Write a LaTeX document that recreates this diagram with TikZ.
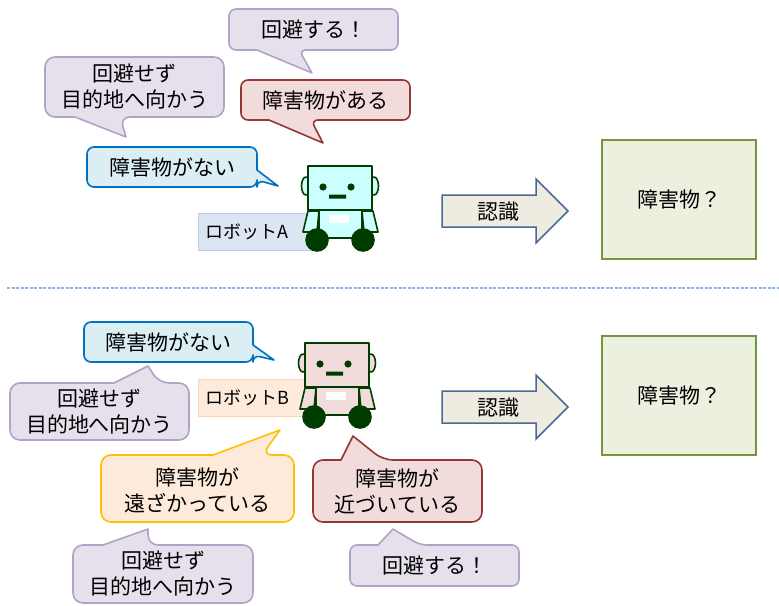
\documentclass[tikz,border=0pt]{standalone}
\usepackage{fontspec}
\setmainfont{Noto Sans CJK JP}
\definecolor{lavfill}{HTML}{E5E0EC}
\definecolor{lavline}{HTML}{B3A2C7}
\definecolor{redfill}{HTML}{F2DCDB}
\definecolor{redline}{HTML}{953735}
\definecolor{bluefill}{HTML}{DBEEF4}
\definecolor{blueline}{HTML}{0070C0}
\definecolor{orgfill}{HTML}{FDEADA}
\definecolor{orgline}{HTML}{FFC000}
\definecolor{labAfill}{HTML}{DCE6F2}
\definecolor{labAline}{HTML}{B9CDE5}
\definecolor{labBline}{HTML}{FBD4B4}
\definecolor{arrfill}{HTML}{EEECE1}
\definecolor{arrline}{HTML}{4A6A96}
\definecolor{boxfill}{HTML}{EBF1DE}
\definecolor{boxline}{HTML}{77933C}
\definecolor{robline}{RGB}{0,60,0}
\definecolor{headA}{HTML}{CCFFFF}
\definecolor{headB}{HTML}{F2DCDB}
\definecolor{sepline}{HTML}{8DB3E2}
\tikzset{bub/.style={line width=1.6pt,line join=round,rounded corners=7pt},
lavbub/.style={bub,fill=lavfill,draw=lavline},
redbub/.style={bub,fill=redfill,draw=redline},
bluebub/.style={bub,fill=bluefill,draw=blueline},
orgbub/.style={bub,fill=orgfill,draw=orgline},
txt/.style={inner sep=0pt,align=center,font=\fontsize{21}{26}\selectfont},
labtxt/.style={inner sep=0pt,anchor=west,font=\fontsize{18}{22}\selectfont},
robot/.style={draw=robline,line width=1.6pt,line join=round}}
\begin{document}
\begin{tikzpicture}[x=1pt,y=-1pt]
\useasboundingbox (0,0) rectangle (779,605);

% upper half: robot A
\draw[lavbub] (257,50)--(229,50)--(229,9)--(398,9)--(398,50)--(299,50)[sharp corners]--(312,73)--cycle;
\node[txt] (avoidA) at (313.5,29.5) {回避する！};
\draw[lavbub,rounded corners=10pt] (75,117)--(45,117)--(45,57)--(224,57)--(224,117)--(120,117)[sharp corners]--(126,137)--cycle;
\node[txt] (goA) at (134.5,87) {回避せず\\目的地へ向かう};
\draw[redbub] (269,120)--(241,120)--(241,80)--(410,80)--(410,120)--(311,120)[sharp corners]--(323,143)--cycle;
\node[txt] (obstA) at (325.5,100) {障害物がある};
\draw[bluebub] (257,170)--(257,147)--(87,147)--(87,187)--(257,187)--(257,180)[sharp corners]--(278,186)--cycle;
\node[txt] (noobstA) at (172,167) {障害物がない};

\draw[fill=labAfill,draw=labAline,line width=1pt] (198,213) rectangle (310,250);
\node[labtxt] (labA) at (205,231.5) {ロボットA};

% lower half: robot B
\draw[bluebub] (253,345)--(253,322)--(84,322)--(84,362)--(253,362)--(253,355)[sharp corners]--(274,360)--cycle;
\node[txt] (noobstB) at (168.5,342) {障害物がない};
\draw[lavbub,rounded corners=10pt] (114,383)--(10,383)--(10,440)--(189,440)--(189,383)--(159,383)[sharp corners]--(148,366)--cycle;
\node[txt] (goB) at (99.5,411.5) {回避せず\\目的地へ向かう};

\draw[fill=orgfill,draw=labBline,line width=1pt] (198,379) rectangle (307,416);
\node[labtxt] (labB) at (205,397.5) {ロボットB};

\draw[orgbub,rounded corners=10pt] (213,455)--(101,455)--(101,522)--(294,522)--(294,455)--(262,455)[sharp corners]--(280,430)--cycle;
\node[txt] (farB) at (197.5,490) {障害物が\\遠ざかっている};
\draw[redbub,rounded corners=10pt] (341,460)--(313,460)--(313,522)--(482,522)--(482,460)--(383,460)[sharp corners]--(353,436)--cycle;
\node[txt] (nearB) at (397.5,491.5) {障害物が\\近づいている};
\draw[lavbub,rounded corners=10pt] (103,545)--(73,545)--(73,603)--(253,603)--(253,545)--(148,545)[sharp corners]--(148,529)--cycle;
\node[txt] (goB2) at (163,574) {回避せず\\目的地へ向かう};
\draw[lavbub] (378,545)--(350,545)--(350,586)--(519,586)--(519,545)--(420,545)[sharp corners]--(393,529)--cycle;
\node[txt] (avoidB) at (434.5,565.5) {回避する！};

% the two robots
\foreach \px/\py/\col in {308/166/headA,305/343/headB}{
\begin{scope}[shift={(\px,\py)}]
\draw[robot,fill=\col] (-2,20) ellipse [x radius=4.5,y radius=9] (66,20) ellipse [x radius=4.5,y radius=9];
\draw[robot,fill=\col] (0,0) rectangle (64,44);
\fill[robline] (15,21) circle [radius=3.6] (43,21) circle [radius=3.6] (21,28.5) rectangle (38,32.5);
\draw[robot,fill=\col] (0,45)--(11,45)--(9,66)--(-5,66)--cycle;
\draw[robot,fill=\col] (54,45)--(65,45)--(70,66)--(56,66)--cycle;
\draw[robot,fill=\col] (11,44) rectangle (54,72);
\fill[white] (21,49) rectangle (41,57);
\fill[robline] (9,74) circle [radius=11.8] (55,74) circle [radius=11.8];
\end{scope}}

% recognition arrow and result box, same in both halves
\foreach \dy/\nm in {0/A,196/B}{
\begin{scope}[yshift=-\dy pt]
\draw[fill=arrfill,draw=arrline,line width=1.5pt,line join=miter] (442,195)--(536,195)--(536,179)--(568,211)--(536,243)--(536,227)--(442,227)--cycle;
\node[txt] (recog\nm) at (498,211.5) {認識};
\draw[fill=boxfill,draw=boxline,line width=1.8pt] (602,140) rectangle (756,259);
\node[txt] (what\nm) at (679,200) {障害物？};
\end{scope}}

\draw[sepline,line width=1.5pt,dash pattern=on 3pt off 1.5pt] (7,288)--(779,288);
\end{tikzpicture}
\end{document}
